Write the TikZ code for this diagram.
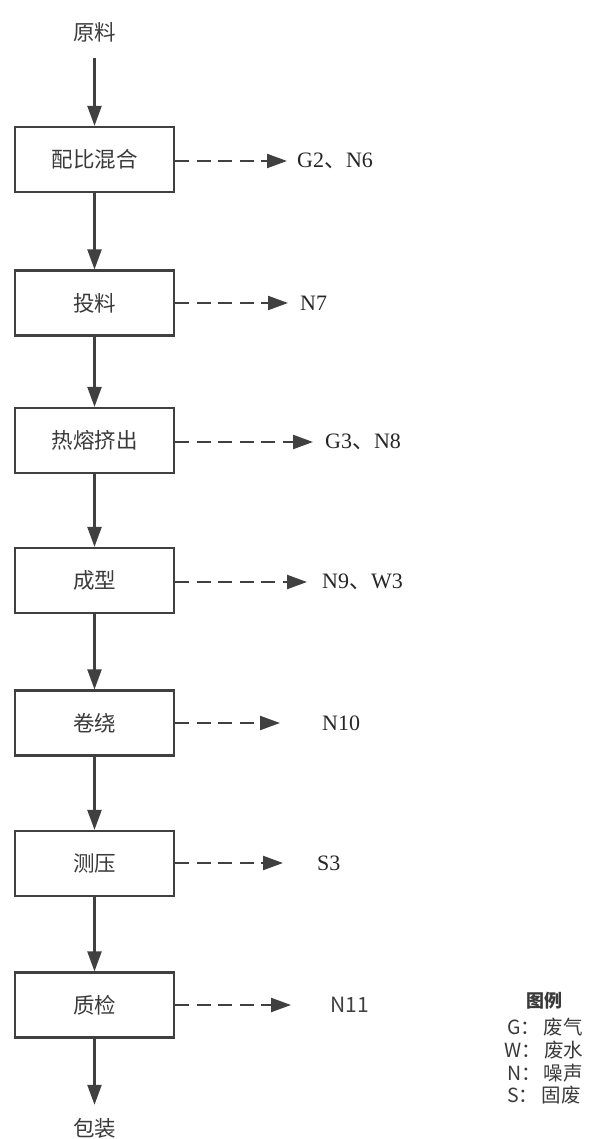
\documentclass[tikz,border=0pt]{standalone}
\usepackage{fontspec}
\setmainfont{Liberation Serif}
\newfontfamily\cjk{Noto Sans CJK SC}
\usetikzlibrary{arrows.meta}
\definecolor{ln}{HTML}{404040}
\definecolor{tx}{HTML}{3a3a3a}
\begin{document}
\begin{tikzpicture}[x=1pt,y=-1pt,
  proc/.style={draw=ln,line width=2.2pt,minimum width=159pt,minimum height=65pt,inner sep=0pt,
    font=\cjk\fontsize{21.5}{21.5}\selectfont,text=tx},
  term/.style={inner sep=0pt,font=\cjk\fontsize{21.5}{21.5}\selectfont,text=tx},
  flow/.style={draw=ln,line width=2.3pt,-{Triangle[length=20pt,width=14pt]}},
  emit/.style={flow,dash pattern=on 14pt off 7.5pt},
  lab/.style={anchor=west,inner sep=0pt,font=\fontsize{22}{22}\selectfont,text=black!85},
  labs/.style={anchor=west,inner sep=0pt,font=\cjk\fontsize{21}{21}\selectfont,text=black!75},
  leg/.style={inner sep=0pt,font=\cjk\fontsize{19.5}{19.5}\selectfont,text=tx}]
\useasboundingbox (0,0) rectangle (589,1139);

\node[term] (src) at (94.5,32) {原料};
\node[proc] (p1) at (94.5,159.5) {配比混合};
\node[proc] (p2) at (94.5,303) {投料};
\node[proc] (p3) at (94.5,440.5) {热熔挤出};
\node[proc] (p4) at (94.5,580.5) {成型};
\node[proc] (p5) at (94.5,723) {卷绕};
\node[proc] (p6) at (94.5,863.5) {测压};
\node[proc] (p7) at (94.5,1005) {质检};
\node[term] (dst) at (94.5,1128) {包装};

\node[lab] (l1) at (297,161) {G2{\cjk 、}N6};
\node[lab] (l2) at (300,303) {N7};
\node[lab] (l3) at (325,442) {G3{\cjk 、}N8};
\node[lab] (l4) at (322,582) {N9{\cjk 、}W3};
\node[lab] (l5) at (322,723) {N10};
\node[lab] (l6) at (317,863) {S3};
\node[labs] (l7) at (330,1005) {N11};

\draw[flow,shorten <=16pt] (src.south) -- (p1.north);
\draw[flow] (p1) -- (p2);
\draw[flow] (p2) -- (p3);
\draw[flow] (p3) -- (p4);
\draw[flow] (p4) -- (p5);
\draw[flow] (p5) -- (p6);
\draw[flow] (p6) -- (p7);
\draw[flow,shorten >=13pt] (p7.south) -- (dst.north);

\draw[emit,shorten >=10pt] (p1.east |- l1.west) -- (l1.west);
\draw[emit,shorten >=12pt] (p2.east |- l2.west) -- (l2.west);
\draw[emit,shorten >=12pt] (p3.east |- l3.west) -- (l3.west);
\draw[emit,shorten >=15pt] (p4.east |- l4.west) -- (l4.west);
\draw[emit,shorten >=42pt] (p5.east |- l5.west) -- (l5.west);
\draw[emit,shorten >=34pt] (p6.east |- l6.west) -- (l6.west);
\draw[emit,shorten >=39pt] (p7.east |- l7.west) -- (l7.west);

\node[leg,font=\cjk\bfseries\fontsize{18}{18}\selectfont] (lg0) at (544,1001) {图例};
\node[leg] (lg1) at (545,1027) {G：\,废气};
\node[leg] (lg2) at (544,1050) {W：\,废水};
\node[leg] (lg3) at (545,1073) {N：\,噪声};
\node[leg] (lg4) at (544,1095) {S：\,固废};
\end{tikzpicture}
\end{document}
